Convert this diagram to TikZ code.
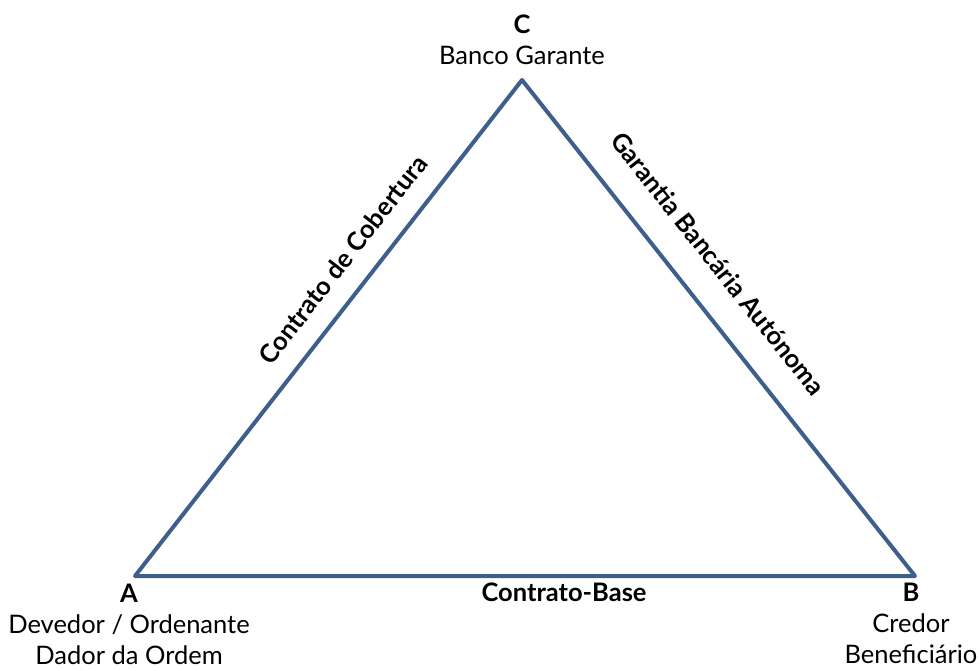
\documentclass[tikz,border=0pt]{standalone}
\usepackage{fontspec}
\setmainfont{Lato}
\definecolor{edgeblue}{RGB}{62,94,140}

\begin{document}
\begin{tikzpicture}[x=1pt,y=-1pt,
    side/.style={line width=4pt, draw=edgeblue, line join=round},
    party/.style={align=center, font=\fontsize{25.5}{31}\selectfont},
    deal/.style={font=\fontsize{25.5}{30}\selectfont\bfseries, inner sep=2pt}]
\useasboundingbox (0,0) rectangle (980,670);
%----vertices----------------------------------
\coordinate (A) at (135,576);
\coordinate (B) at (915,576);
\coordinate (C) at (522,80);
%----triangle with the contracts---------------
\draw[side] (A) -- node[deal, below=3pt, pos=0.55] (base) {Contrato-Base}
    (B) -- (C) -- cycle;
\path (A) -- node[deal, sloped, above=19pt, pos=0.6] (cover) {Contrato de Cobertura} (C);
\path (C) -- node[deal, sloped, above=28pt, pos=0.42] (guar) {Garantia Bancária Autónoma} (B);
%----parties-----------------------------------
\node[party] (labC) at (522,40) {\textbf{C}\\Banco Garante};
\node[party] (labA) at (129,624) {\textbf{A}\\Devedor / Ordenante\\Dador da Ordem};
\node[party] (labB) at (911,623) {\textbf{B}\\Credor\\Beneficiário};
\end{tikzpicture}
\end{document}
